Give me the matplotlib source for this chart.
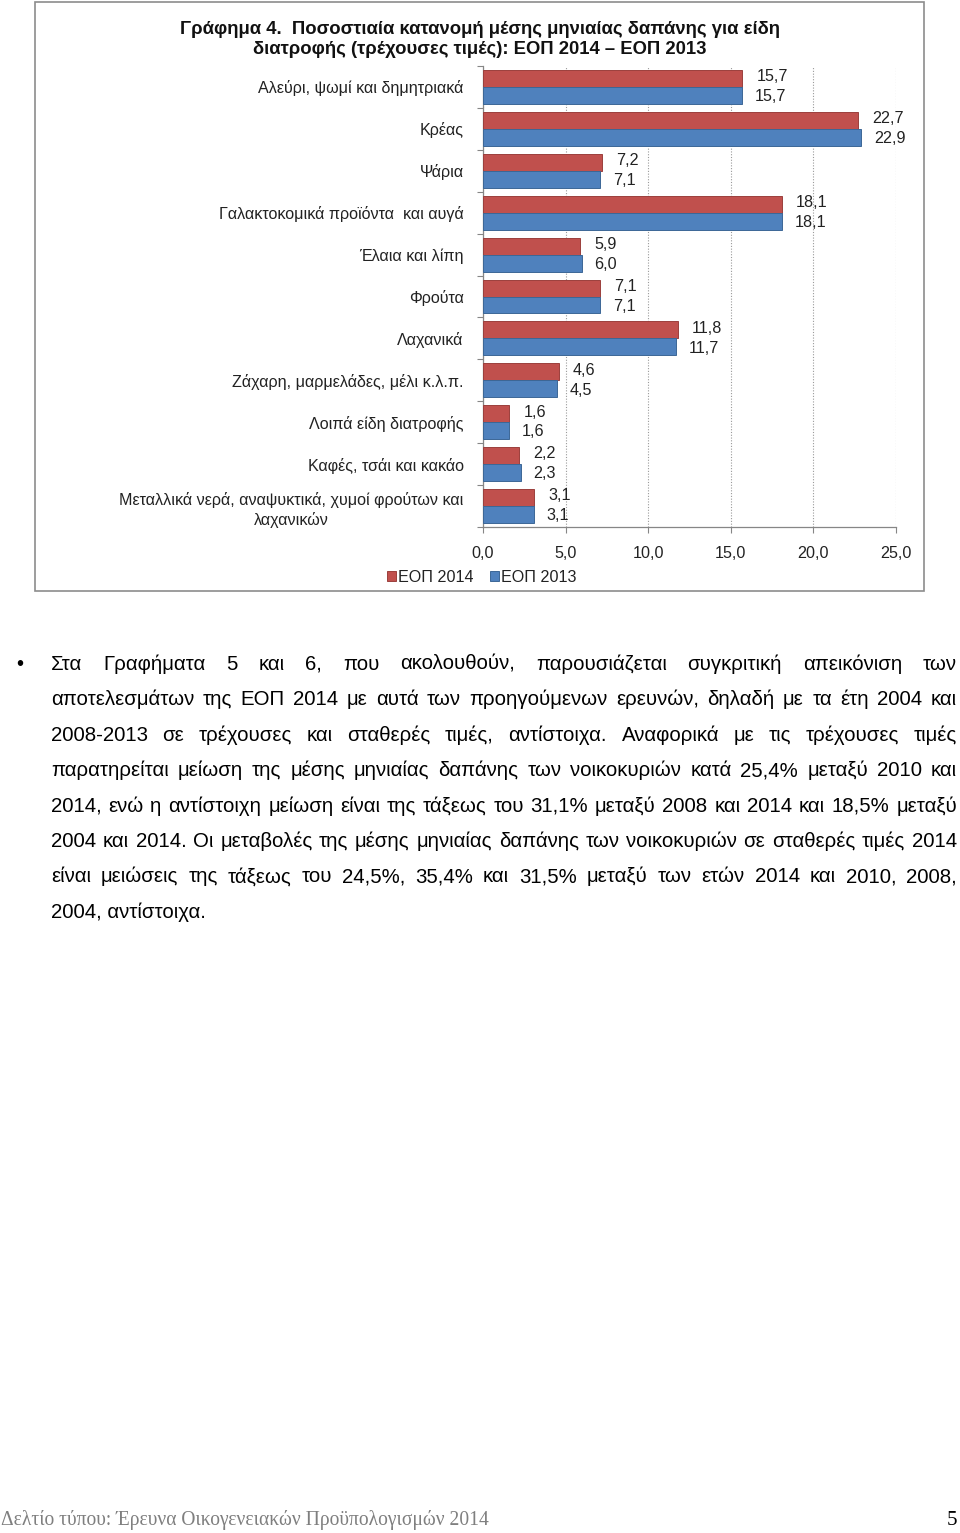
import matplotlib
matplotlib.use("Agg")
import matplotlib.pyplot as plt
from matplotlib.patches import Rectangle
from matplotlib import font_manager

# ---------------- data ----------------
categories = [
    "Αλεύρι, ψωμί και δημητριακά",
    "Κρέας",
    "Ψάρια",
    "Γαλακτοκομικά προϊόντα  και αυγά",
    "Έλαια και λίπη",
    "Φρούτα",
    "Λαχανικά",
    "Ζάχαρη, μαρμελάδες, μέλι κ.λ.π.",
    "Λοιπά είδη διατροφής",
    "Καφές, τσάι και κακάο",
    "Μεταλλικά νερά, αναψυκτικά, χυμοί φρούτων και\nλαχανικών",
]
eop2014 = [15.7, 22.7, 7.2, 18.1, 5.9, 7.1, 11.8, 4.6, 1.6, 2.2, 3.1]
eop2013 = [15.7, 22.9, 7.1, 18.1, 6.0, 7.1, 11.7, 4.5, 1.6, 2.3, 3.1]
series_names = ["ΕΟΠ 2014", "ΕΟΠ 2013"]
xticks = [0, 5, 10, 15, 20, 25]

title_lines = ["Γράφημα 4.  Ποσοστιαία κατανομή μέσης μηνιαίας δαπάνης για είδη",
               "διατροφής (τρέχουσες τιμές): ΕΟΠ 2014 – ΕΟΠ 2013"]

para_lines = [
    "Στα Γραφήματα 5 και 6, που ακολουθούν, παρουσιάζεται συγκριτική απεικόνιση των",
    "αποτελεσμάτων της ΕΟΠ 2014 με αυτά των προηγούμενων ερευνών, δηλαδή με τα έτη 2004 και",
    "2008-2013 σε τρέχουσες και σταθερές τιμές, αντίστοιχα. Αναφορικά με τις τρέχουσες τιμές",
    "παρατηρείται μείωση της μέσης μηνιαίας δαπάνης των νοικοκυριών κατά 25,4% μεταξύ 2010 και",
    "2014, ενώ η αντίστοιχη μείωση είναι της τάξεως του 31,1% μεταξύ 2008 και 2014 και 18,5% μεταξύ",
    "2004 και 2014. Οι μεταβολές της μέσης μηνιαίας δαπάνης των νοικοκυριών σε σταθερές τιμές 2014",
    "είναι μειώσεις της τάξεως του 24,5%, 35,4% και 31,5% μεταξύ των ετών 2014 και 2010, 2008,",
    "2004, αντίστοιχα.",
]
footer = "Δελτίο τύπου: Έρευνα Οικογενειακών Προϋπολογισμών 2014"
page_no = "5"

# ---------------- setup ----------------
W, H = 960, 1533
DPI = 100
fig = plt.figure(figsize=(W / DPI, H / DPI), dpi=DPI)
fig.patch.set_facecolor("white")

installed = {f.name for f in font_manager.fontManager.ttflist}
SANS = ["Liberation Sans", "DejaVu Sans"]
NARROW = ["Liberation Sans Narrow", "Liberation Sans", "DejaVu Sans"] if "Liberation Sans Narrow" in installed else SANS
SERIF = ["Liberation Serif", "DejaVu Serif"]
plt.rcParams["font.family"] = SANS
renderer = fig.canvas.get_renderer()

def fx(px):
    return px / W

def fy(py):
    return 1 - py / H

RED = "#C0504D"
BLUE = "#4F81BD"
GRAY = "#868686"
TXT = "#222222"
CFS = 11.6

# chart frame
fig.patches.append(Rectangle((fx(35), fy(591)), fx(924) - fx(35), fy(2) - fy(591),
                             transform=fig.transFigure, fill=False, edgecolor="#8c8c8c", lw=1.2))

# axes
x0, x1, y0, y1 = 483, 896, 66, 527
ax = fig.add_axes([fx(x0), fy(y1), fx(x1) - fx(x0), fy(y0) - fy(y1)])
n = len(categories)
pos = list(range(n))
bh = 0.405
ax.barh([p - bh / 2 for p in pos], eop2014, height=bh, color=RED, edgecolor="#9b3f3c", lw=0.7,
        label=series_names[0], zorder=3)
ax.barh([p + bh / 2 for p in pos], eop2013, height=bh, color=BLUE, edgecolor="#3c6796", lw=0.7,
        label=series_names[1], zorder=3)
ax.set_xlim(0, 25)
ax.set_ylim(n - 0.5, -0.5)

for p, v in zip(pos, eop2014):
    ax.annotate(f"{v:.1f}".replace(".", ","), (v, p - bh / 2 - 0.04), xytext=(10, 0),
                textcoords="offset points", va="center", ha="left", fontsize=CFS, color=TXT)
for p, v in zip(pos, eop2013):
    ax.annotate(f"{v:.1f}".replace(".", ","), (v, p + bh / 2 + 0.03), xytext=(9, 0),
                textcoords="offset points", va="center", ha="left", fontsize=CFS, color=TXT)

for s in ["top", "right"]:
    ax.spines[s].set_visible(False)
for s in ["left", "bottom"]:
    ax.spines[s].set_color(GRAY)
    ax.spines[s].set_linewidth(0.9)

ax.set_xticks(xticks)
ax.set_xticklabels([f"{t:.1f}".replace(".", ",") for t in xticks])
ax.tick_params(axis="x", direction="out", length=4, color=GRAY, pad=10, labelsize=CFS, labelcolor=TXT)
ax.set_yticks([p - 0.5 for p in pos] + [n - 0.5])
ax.set_yticklabels([])
ax.tick_params(axis="y", which="major", direction="out", length=4, color=GRAY)
ax.set_yticks(pos, minor=True)
ax.set_yticklabels(categories, minor=True, fontsize=CFS, color=TXT)
ax.tick_params(axis="y", which="minor", length=0, pad=14)
for lab in ax.get_yticklabels(minor=True):
    lab.set_multialignment("center")
    lab.set_linespacing(1.35)
ax.xaxis.grid(True, linestyle=(0, (1, 1.5)), color="#9a9a9a", lw=0.8, zorder=0)
ax.set_axisbelow(True)

ax.legend(loc="center", bbox_to_anchor=(fx(482), fy(577)), bbox_transform=fig.transFigure,
          ncol=2, frameon=False, fontsize=CFS, handlelength=0.55, handleheight=0.55,
          handletextpad=0.15, columnspacing=1.0, labelcolor=TXT)

# title (two centred lines, scaled to reference width)
for yy, line, target in [(29, title_lines[0], 603), (49, title_lines[1], 459)]:
    t = fig.text(fx(480), fy(yy), line, ha="center", va="center", fontsize=14, fontweight="bold",
                 family=NARROW, color="#111111")
    wt = t.get_window_extent(renderer).width
    t.set_fontsize(14 * target / wt if yy == 29 else 14 * 603 / wt0)
    if yy == 29:
        wt0 = wt

# ---------------- paragraph (justified) ----------------
fs = 14.7
left_px, right_px = 51, 957
base0, step = 670, 35.4

def width_px(s):
    t = fig.text(0, 0, s, fontsize=fs, family=SANS)
    w = t.get_window_extent(renderer).width
    t.remove()
    return w

fig.text(fx(16), fy(base0), "•", fontsize=fs, family=SANS, va="baseline", ha="left", color="black")
for i, line in enumerate(para_lines):
    yb = fy(base0 + i * step)
    words = line.split(" ")
    if i == len(para_lines) - 1:
        fig.text(fx(left_px), yb, line, fontsize=fs, family=SANS, va="baseline", ha="left", color="black")
        continue
    widths = [width_px(w) for w in words]
    gap = (right_px - left_px - sum(widths)) / (len(words) - 1)
    x = left_px
    for w, wd in zip(words, widths):
        fig.text(fx(x), yb, w, fontsize=fs, family=SANS, va="baseline", ha="left", color="black")
        x += wd + gap

# footer
ft = fig.text(fx(1), fy(1525), footer, fontsize=13, family=SERIF, va="baseline", ha="left",
              color="#7f7f7f")
wft = ft.get_window_extent(renderer).width
ft.set_fontsize(13 * 485 / wft)
fig.text(fx(957), fy(1525), page_no, fontsize=15, family=SERIF, va="baseline", ha="right", color="black")

fig.savefig("out.png", dpi=DPI, facecolor="white")
